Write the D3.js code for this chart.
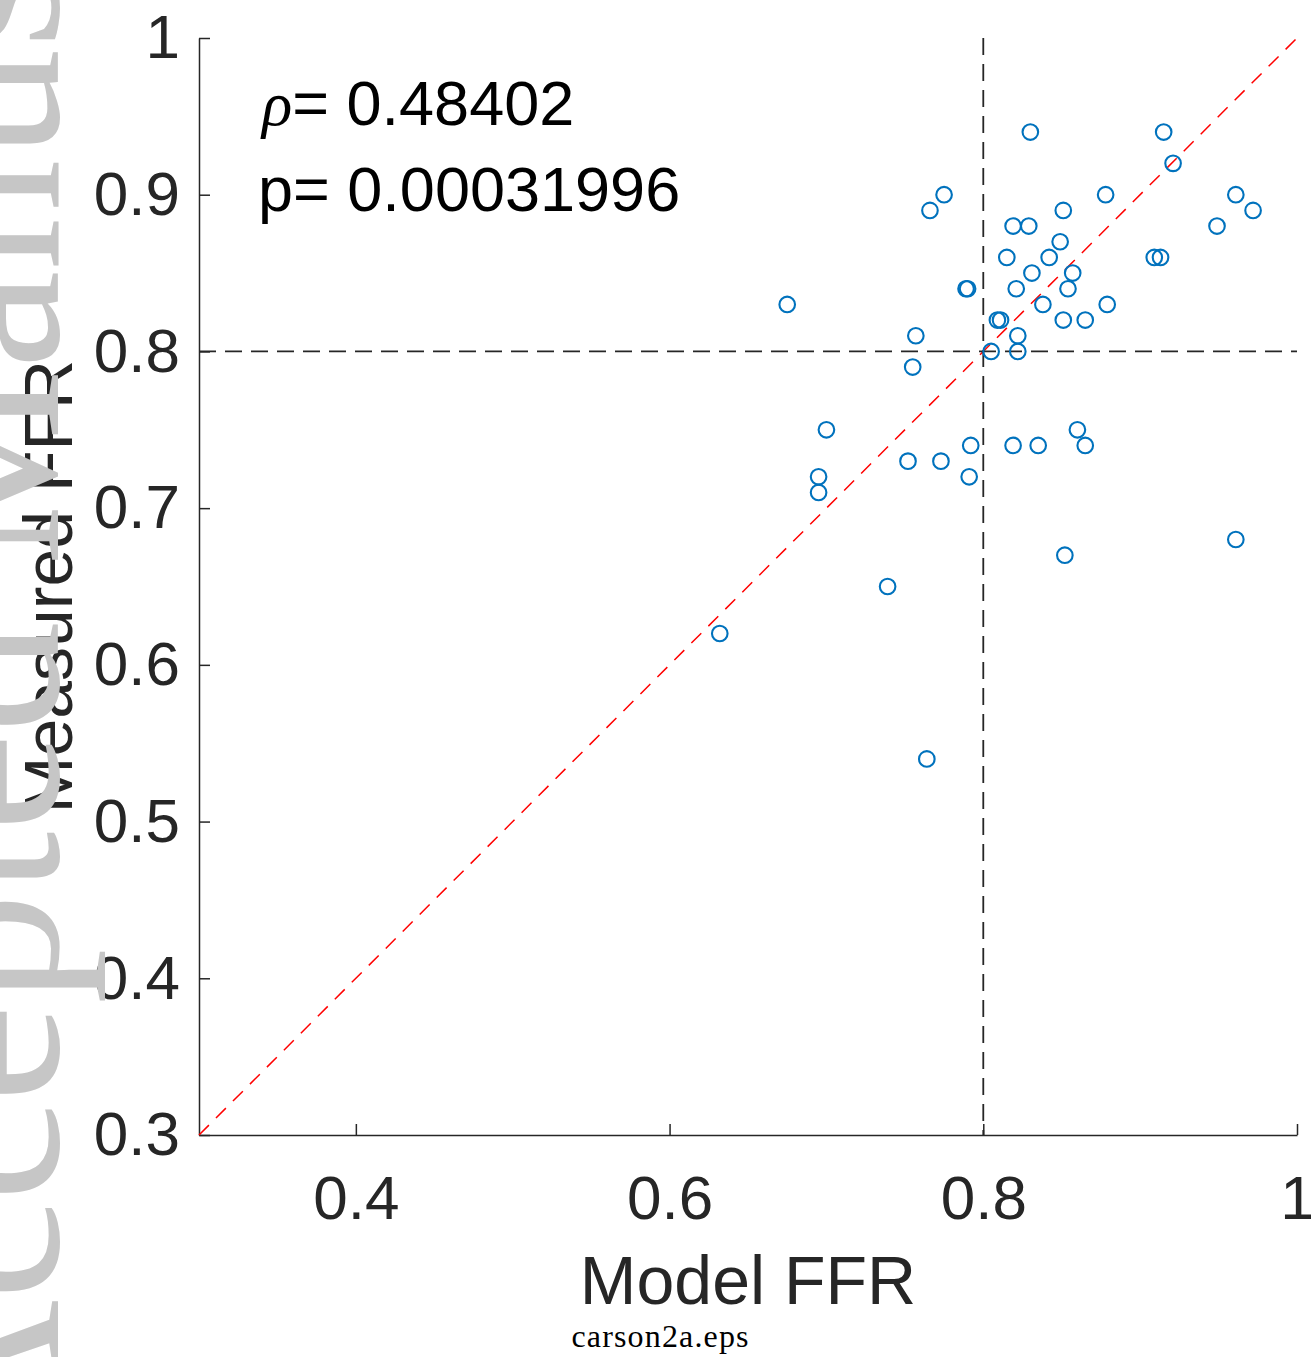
<!DOCTYPE html>
<html>
<head>
<meta charset="utf-8">
<script src="https://cdn.jsdelivr.net/npm/d3@7"></script>
<style>
  body { margin: 0; background: #ffffff; }
  svg { display: block; }
</style>
</head>
<body>
<div id="chart"></div>
<script>
// values (model vs measured FFR)
const modelFFR = [
  0.675, 0.766, 0.775, 0.789, 0.790, 0.757, 0.755, 0.805, 0.809, 0.811,
  0.830, 0.915, 0.921, 0.878, 0.961, 0.972, 0.949, 0.851, 0.819, 0.829,
  0.849, 0.815, 0.842, 0.909, 0.913, 0.831, 0.857, 0.821, 0.854, 0.838,
  0.879, 0.851, 0.865, 0.822, 0.822, 0.700, 0.695, 0.695, 0.752, 0.773,
  0.792, 0.791, 0.819, 0.835, 0.860, 0.865, 0.852, 0.739, 0.961, 0.632,
  0.764
];
const measuredFFR = [
  0.83, 0.89, 0.90, 0.84, 0.84, 0.81, 0.79, 0.80, 0.82, 0.82,
  0.94, 0.94, 0.92, 0.90, 0.90, 0.89, 0.88, 0.89, 0.88, 0.88,
  0.87, 0.86, 0.86, 0.86, 0.86, 0.85, 0.85, 0.84, 0.84, 0.83,
  0.83, 0.82, 0.82, 0.81, 0.80, 0.75, 0.72, 0.71, 0.73, 0.73,
  0.74, 0.72, 0.74, 0.74, 0.75, 0.74, 0.67, 0.65, 0.68, 0.62,
  0.54
];
const xTicks = [0.4, 0.6, 0.8, 1];
const yTicks = [0.3, 0.4, 0.5, 0.6, 0.7, 0.8, 0.9, 1];
const domain = [0.3, 1];
const cutoff = 0.8;
const rhoText = "0.48402";
const pText = "0.00031996";
const xLabel = "Model FFR";
const yLabel = "Measured FFR";
const caption = "carson2a.eps";
const watermark = "Accepted Manuscript";

const width = 1311;
const height = 1357;
const margin = { top: 38, right: 14, bottom: 222, left: 199 };
const ink = "#262626";
const font = "'Liberation Sans', Arial, Helvetica, sans-serif";

const points = modelFFR.map((d, i) => ({ x: d, y: measuredFFR[i] }));

const svg = d3.select("#chart")
  .append("svg")
  .attr("width", width)
  .attr("height", height)
  .style("font-family", font);

const x = d3.scaleLinear()
  .domain(domain)
  .range([margin.left, width - margin.right]);

const y = d3.scaleLinear()
  .domain(domain)
  .range([height - margin.bottom, margin.top]);

// axes, matlab style: ticks pointing inwards, no box
const xAxis = svg.append("g")
  .attr("transform", `translate(0,${y(domain[0])})`)
  .call(d3.axisBottom(x)
    .tickValues(xTicks)
    .tickFormat(d3.format("~g"))
    .tickSizeInner(-11)
    .tickSizeOuter(0)
    .tickPadding(40));

const yAxis = svg.append("g")
  .attr("transform", `translate(${x(domain[0])},0)`)
  .call(d3.axisLeft(y)
    .tickValues(yTicks)
    .tickFormat(d3.format("~g"))
    .tickSizeInner(-11)
    .tickSizeOuter(0)
    .tickPadding(19));

[xAxis, yAxis].forEach(g => {
  g.select(".domain").attr("stroke", ink).attr("stroke-width", 1.5);
  g.selectAll(".tick line").attr("stroke", ink).attr("stroke-width", 1.5);
  g.selectAll(".tick text")
    .attr("fill", ink)
    .style("font-family", font)
    .style("font-size", "62px");
});

// reference lines
svg.append("line")
  .attr("x1", x(domain[0]))
  .attr("y1", y(domain[0]))
  .attr("x2", x(domain[1]))
  .attr("y2", y(domain[1]))
  .attr("stroke", "#ff0000")
  .attr("stroke-width", 1.5)
  .attr("stroke-dasharray", "14,10");

svg.append("line")
  .attr("x1", x(cutoff))
  .attr("x2", x(cutoff))
  .attr("y1", y(domain[1]))
  .attr("y2", y(domain[0]))
  .attr("stroke", ink)
  .attr("stroke-width", 1.8)
  .attr("stroke-dasharray", "17,9");

svg.append("line")
  .attr("x1", x(domain[0]))
  .attr("x2", x(domain[1]))
  .attr("y1", y(cutoff))
  .attr("y2", y(cutoff))
  .attr("stroke", ink)
  .attr("stroke-width", 1.8)
  .attr("stroke-dasharray", "17,9");

// scatter
svg.append("g")
  .selectAll("circle")
  .data(points)
  .join("circle")
  .attr("cx", d => x(d.x))
  .attr("cy", d => y(d.y))
  .attr("r", 7.8)
  .attr("fill", "none")
  .attr("stroke", "#0072bd")
  .attr("stroke-width", 2.1);

// stats text
const rho = svg.append("text")
  .attr("x", 262)
  .attr("y", 125)
  .attr("fill", "#000")
  .style("font-size", "63px");
rho.append("tspan")
  .style("font-family", "'Liberation Serif', serif")
  .style("font-style", "italic")
  .text("ρ");
rho.append("tspan").text("= " + rhoText);

svg.append("text")
  .attr("x", 258)
  .attr("y", 211)
  .attr("fill", "#000")
  .style("font-size", "63px")
  .text("p= " + pText);

// axis labels
svg.append("text")
  .attr("x", (x(domain[0]) + x(domain[1])) / 2)
  .attr("y", 1304)
  .attr("text-anchor", "middle")
  .attr("fill", ink)
  .style("font-size", "68px")
  .text(xLabel);

svg.append("text")
  .attr("transform", `translate(72,${(y(domain[0]) + y(domain[1])) / 2}) rotate(-90)`)
  .attr("text-anchor", "middle")
  .attr("fill", ink)
  .style("font-size", "68px")
  .text(yLabel);

svg.append("text")
  .attr("x", 660)
  .attr("y", 1347)
  .attr("text-anchor", "middle")
  .attr("fill", "#000")
  .attr("textLength", 177)
  .style("font-family", "'Liberation Serif', serif")
  .style("font-size", "32px")
  .text(caption);

// grey watermark running up the left edge
svg.append("text")
  .attr("transform", "translate(58,1460) rotate(-90)")
  .attr("fill", "#c6c6c6")
  .style("font-family", "'Liberation Serif', serif")
  .style("font-size", "222px")
  .text(watermark);
</script>
</body>
</html>
